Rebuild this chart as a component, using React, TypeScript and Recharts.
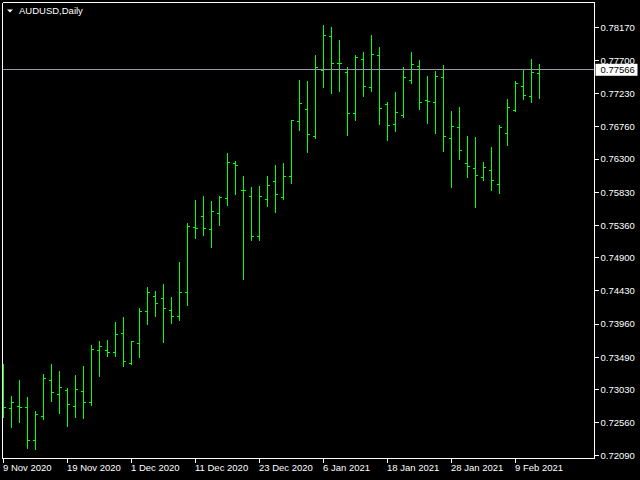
import React from "react";
import { ComposedChart, Bar, XAxis, YAxis, ReferenceLine, Customized } from "recharts";

// Daily bars, 9 Nov 2020 – 12 Feb 2021 (AUDUSD)
const dates = [
  "9 Nov 2020", "10 Nov 2020", "11 Nov 2020", "12 Nov 2020", "13 Nov 2020",
  "16 Nov 2020", "17 Nov 2020", "18 Nov 2020", "19 Nov 2020", "20 Nov 2020",
  "23 Nov 2020", "24 Nov 2020", "25 Nov 2020", "26 Nov 2020", "27 Nov 2020",
  "30 Nov 2020", "1 Dec 2020", "2 Dec 2020", "3 Dec 2020", "4 Dec 2020",
  "7 Dec 2020", "8 Dec 2020", "9 Dec 2020", "10 Dec 2020", "11 Dec 2020",
  "14 Dec 2020", "15 Dec 2020", "16 Dec 2020", "17 Dec 2020", "18 Dec 2020",
  "21 Dec 2020", "22 Dec 2020", "23 Dec 2020", "24 Dec 2020", "28 Dec 2020",
  "29 Dec 2020", "30 Dec 2020", "31 Dec 2020", "4 Jan 2021", "5 Jan 2021",
  "6 Jan 2021", "7 Jan 2021", "8 Jan 2021", "11 Jan 2021", "12 Jan 2021",
  "13 Jan 2021", "14 Jan 2021", "15 Jan 2021", "18 Jan 2021", "19 Jan 2021",
  "20 Jan 2021", "21 Jan 2021", "22 Jan 2021", "25 Jan 2021", "26 Jan 2021",
  "27 Jan 2021", "28 Jan 2021", "29 Jan 2021", "1 Feb 2021", "2 Feb 2021",
  "3 Feb 2021", "4 Feb 2021", "5 Feb 2021", "8 Feb 2021", "9 Feb 2021",
  "10 Feb 2021", "11 Feb 2021", "12 Feb 2021",
];

const opens = [
  0.7295, 0.72759, 0.72787, 0.72773, 0.72305, 0.72646, 0.73156, 0.72958, 0.73014, 0.72787,
  0.73, 0.72844, 0.73581, 0.73581, 0.73553, 0.73823, 0.73383, 0.73681, 0.74134, 0.74347,
  0.74319, 0.74149, 0.74064, 0.74404, 0.75326, 0.75482, 0.75297, 0.75524, 0.75737, 0.76233,
  0.75852, 0.75765, 0.75198, 0.75723, 0.75978, 0.75751, 0.76049, 0.76829, 0.76999, 0.76616,
  0.77552, 0.78034, 0.77653, 0.77524, 0.76942, 0.77708, 0.77311, 0.77765, 0.7707, 0.76786,
  0.76914, 0.7741, 0.77609, 0.77126, 0.77098, 0.77453, 0.76588, 0.76744, 0.76233, 0.76162,
  0.76035, 0.76134, 0.75935, 0.76659, 0.76985, 0.77325, 0.77183, 0.77509,
];
const highs = [
  0.73387, 0.72933, 0.7316, 0.72919, 0.72721, 0.73245, 0.73387, 0.73288, 0.73047, 0.73231,
  0.73359, 0.73657, 0.73713, 0.73728, 0.73983, 0.74054, 0.73713, 0.74181, 0.74479, 0.74422,
  0.74522, 0.74337, 0.74834, 0.75387, 0.75713, 0.75769, 0.75699, 0.75769, 0.76379, 0.76266,
  0.76053, 0.75897, 0.75911, 0.76053, 0.76209, 0.76237, 0.7685, 0.77414, 0.774, 0.77769,
  0.78194, 0.78166, 0.77982, 0.77599, 0.77769, 0.77811, 0.78052, 0.77882, 0.77102, 0.77244,
  0.77599, 0.77811, 0.77698, 0.77471, 0.77542, 0.77627, 0.76975, 0.77031, 0.7662, 0.76606,
  0.76252, 0.76464, 0.76776, 0.77145, 0.774, 0.77556, 0.77712, 0.77641,
];
const lows = [
  0.7264, 0.72498, 0.72569, 0.722, 0.72186, 0.72612, 0.72867, 0.72697, 0.72512, 0.7264,
  0.72626, 0.7281, 0.73221, 0.73501, 0.73501, 0.73359, 0.73383, 0.73486, 0.73959, 0.74072,
  0.73699, 0.73973, 0.74015, 0.74228, 0.75178, 0.75221, 0.75051, 0.75362, 0.75646, 0.75802,
  0.74597, 0.7515, 0.7515, 0.75632, 0.75547, 0.75731, 0.75958, 0.7671, 0.76398, 0.76596,
  0.77319, 0.77234, 0.77263, 0.76639, 0.76851, 0.77192, 0.77263, 0.76795, 0.76568, 0.76695,
  0.76894, 0.77376, 0.77007, 0.76809, 0.76667, 0.76412, 0.75901, 0.76298, 0.76043, 0.75618,
  0.76001, 0.75859, 0.75816, 0.76497, 0.76979, 0.77149, 0.77107, 0.77163,
];
const closes = [
  0.72773, 0.72844, 0.72773, 0.72305, 0.72674, 0.73184, 0.72986, 0.73057, 0.72816, 0.73028,
  0.72844, 0.73596, 0.73638, 0.73553, 0.73808, 0.73425, 0.73709, 0.74134, 0.74404, 0.74248,
  0.74177, 0.74064, 0.74404, 0.7534, 0.75311, 0.75311, 0.75552, 0.75751, 0.76247, 0.76205,
  0.75848, 0.75198, 0.75765, 0.75921, 0.75794, 0.76049, 0.76842, 0.77084, 0.76644, 0.77594,
  0.78048, 0.77651, 0.77649, 0.76942, 0.77736, 0.77325, 0.77779, 0.77013, 0.76772, 0.76956,
  0.77453, 0.77637, 0.77098, 0.77112, 0.77467, 0.76616, 0.76758, 0.76417, 0.76191, 0.76063,
  0.76176, 0.75992, 0.76744, 0.77027, 0.77368, 0.77197, 0.77524, 0.77566,
];

const xTickLabels = [
  "9 Nov 2020", "19 Nov 2020", "1 Dec 2020", "11 Dec 2020", "23 Dec 2020",
  "6 Jan 2021", "18 Jan 2021", "28 Jan 2021", "9 Feb 2021",
];
const yTicks = [
  0.7209, 0.7256, 0.7303, 0.7349, 0.7396, 0.7443, 0.749,
  0.7536, 0.7583, 0.763, 0.7676, 0.7723, 0.777, 0.7817,
];
const currentPrice = 0.77566;
const symbolTitle = "AUDUSD,Daily";
const yDomain: [number, number] = [0.72054, 0.7852];
const xDomain: [number, number] = [-0.125, 73.875];

const data = dates.map((d, i) => ({
  idx: i,
  date: d,
  open: opens[i],
  high: highs[i],
  low: lows[i],
  close: closes[i],
  range: [lows[i], highs[i]],
}));

const xTicks = xTickLabels.map((l) => dates.indexOf(l));

const FONT = "'Liberation Sans', Arial, sans-serif";
const GREEN = "#00ff00";

const OhlcShape = (props: any) => {
  const { x, y, width, height, payload } = props;
  if (x == null || y == null || !payload) return null;
  const cx = Math.round(x + width / 2 - 0.5) + 0.5;
  const top = Math.min(y, y + height);
  const bot = Math.max(y, y + height);
  const span = payload.high - payload.low;
  const py = (v: number) => (span === 0 ? top : top + ((payload.high - v) / span) * (bot - top));
  const oy = Math.min(Math.floor(py(payload.open)), Math.floor(bot) - 1) + 0.5;
  const cy = Math.min(Math.floor(py(payload.close)), Math.floor(bot) - 1) + 0.5;
  return (
    <path
      d={`M${cx},${Math.floor(top)}V${Math.ceil(bot)}M${cx - 2.5},${oy}H${cx}M${cx},${cy}H${cx + 2.5}`}
      stroke={GREEN}
      strokeWidth={1}
      fill="none"
      shapeRendering="crispEdges"
    />
  );
};

const XTick = (props: any) => {
  const { x, y, payload } = props;
  const label = dates[Math.round(payload.value)] ?? "";
  return (
    <text x={x - 0.5} y={y} dy="0.71em" fill="#ffffff" fontSize={9.5} fontFamily={FONT} textAnchor="start">
      {label}
    </text>
  );
};

const YTick = (props: any) => {
  const { x, y, payload } = props;
  return (
    <text x={x} y={y} dy="0.355em" fill="#ffffff" fontSize={9.5} fontFamily={FONT} textAnchor="start">
      {Number(payload.value).toFixed(5)}
    </text>
  );
};

const PriceTag = (props: any) => {
  const vb = props.viewBox || {};
  const right = (vb.x ?? 0) + (vb.width ?? 0);
  const ly = vb.y ?? 0;
  return (
    <g>
      <rect x={right + 1} y={ly - 6} width={42} height={12} fill="#ffffff" />
      <text x={right + 6} y={ly} dy="0.355em" fill="#000000" fontSize={9.5} fontFamily={FONT} textAnchor="start">
        {currentPrice.toFixed(5)}
      </text>
    </g>
  );
};

const Title = () => (
  <g>
    <polygon points="7,9.5 13,9.5 10,12.5" fill="#ffffff" />
    <text x={19} y={11} dy="0.355em" fill="#ffffff" fontSize={9.5} fontFamily={FONT}>
      {symbolTitle}
    </text>
  </g>
);

export default function App() {
  return (
    <div style={{ position: "absolute", left: 0, top: 0, width: 640, height: 480, background: "#000000" }}>
      <ComposedChart
        width={640}
        height={480}
        data={data}
        margin={{ top: 2.5, left: 2.5, right: 0, bottom: 0 }}
        style={{ background: "#000000" }}
      >
        <XAxis
          dataKey="idx"
          type="number"
          domain={xDomain}
          ticks={xTicks}
          interval={0}
          allowDataOverflow
          height={21.5}
          axisLine={{ stroke: "#ffffff", shapeRendering: "crispEdges" }}
          tickLine={{ stroke: "#ffffff", shapeRendering: "crispEdges" }}
          tickSize={4}
          tickMargin={2}
          tick={<XTick />}
        />
        <YAxis
          orientation="right"
          type="number"
          domain={yDomain}
          ticks={yTicks}
          interval={0}
          allowDataOverflow
          width={45.5}
          axisLine={{ stroke: "#ffffff", shapeRendering: "crispEdges" }}
          tickLine={{ stroke: "#ffffff", shapeRendering: "crispEdges" }}
          tickSize={4}
          tickMargin={2}
          tick={<YTick />}
        />
        <ReferenceLine x={xDomain[0]} stroke="#ffffff" ifOverflow="visible" shapeRendering="crispEdges" />
        <ReferenceLine y={yDomain[1]} stroke="#ffffff" ifOverflow="visible" shapeRendering="crispEdges" />
        <Bar dataKey="range" barSize={5} shape={<OhlcShape />} isAnimationActive={false} />
        <ReferenceLine
          y={currentPrice}
          stroke="#8f9aa6"
          ifOverflow="visible"
          shapeRendering="crispEdges"
          label={<PriceTag />}
        />
        <Customized component={<Title />} />
      </ComposedChart>
    </div>
  );
}
